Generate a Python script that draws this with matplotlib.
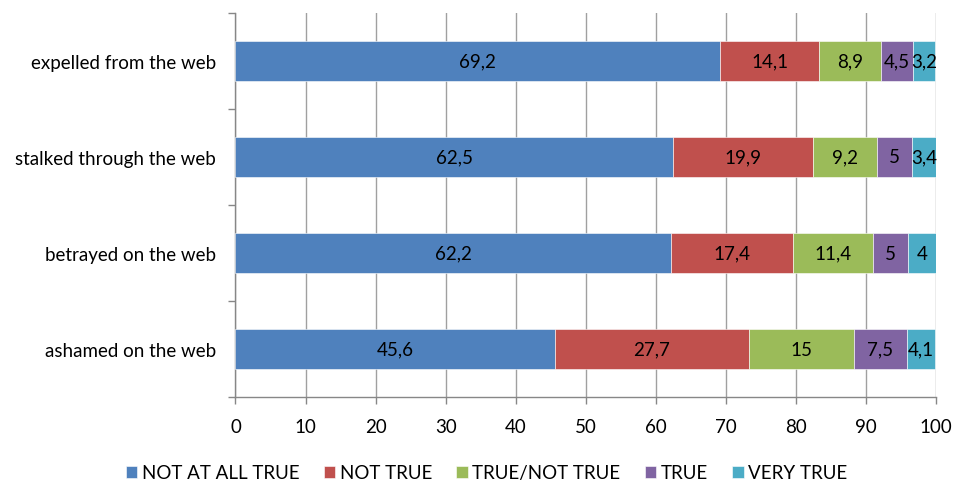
import matplotlib
matplotlib.use("Agg")
import matplotlib.pyplot as plt
import numpy as np

plt.rcParams['font.family'] = ['Lato', 'DejaVu Sans']

categories = ["ashamed on the web", "betrayed on the web",
              "stalked through the web", "expelled from the web"]
series_names = ["NOT AT ALL TRUE", "NOT TRUE", "TRUE/NOT TRUE", "TRUE", "VERY TRUE"]
not_at_all_true = [45.6, 62.2, 62.5, 69.2]
not_true = [27.7, 17.4, 19.9, 14.1]
true_not_true = [15, 11.4, 9.2, 8.9]
true_ = [7.5, 5, 5, 4.5]
very_true = [4.1, 4, 3.4, 3.2]
x_ticks = [0, 10, 20, 30, 40, 50, 60, 70, 80, 90, 100]

series = [not_at_all_true, not_true, true_not_true, true_, very_true]
colors = ["#4F81BD", "#C0504D", "#9BBB59", "#8064A2", "#4BACC6"]
FS = 13.5

fig = plt.figure(figsize=(9.54, 4.81), dpi=100)
ax = fig.add_axes([235.5 / 954, 1 - 398 / 481, (936 - 235.5) / 954, (398 - 14) / 481])

y = np.arange(len(categories))
left = np.zeros(len(categories))
for name, vals, col in zip(series_names, series, colors):
    vals = np.array(vals, dtype=float)
    bars = ax.barh(y, vals, left=left, height=0.41, color=col, label=name,
                   edgecolor="white", linewidth=0.4, zorder=3)
    for b, v in zip(bars, vals):
        txt = f"{v:g}".replace(".", ",")
        ax.text(b.get_x() + b.get_width() / 2, b.get_y() + b.get_height() / 2, txt,
                ha="center", va="center", fontsize=FS, color="black", zorder=4)
    left += vals

ax.set_xlim(0, 100)
ax.set_ylim(-0.5, len(categories) - 0.5)
ax.set_xticks(x_ticks)
ax.set_xticklabels([str(t) for t in x_ticks], fontsize=FS)
ax.set_yticks(y)
ax.set_yticklabels(categories, fontsize=FS)
ax.tick_params(axis="y", length=0, pad=14)
ax.set_yticks(np.arange(-0.5, len(categories), 1), minor=True)
ax.tick_params(axis="y", which="minor", length=5, color="#878787", width=1)
ax.tick_params(axis="x", length=5, color="#878787", width=1, pad=10)

ax.grid(axis="x", color="#A0A0A0", linewidth=1, zorder=0)
for s in ["top", "right"]:
    ax.spines[s].set_visible(False)
for s in ["left", "bottom"]:
    ax.spines[s].set_color("#878787")
    ax.spines[s].set_linewidth(1)

fig.legend(loc="lower center", bbox_to_anchor=(0.51, -0.038), ncol=5, frameon=False,
           fontsize=FS, handlelength=0.6, handleheight=0.6, handletextpad=0.25,
           columnspacing=1.3)

fig.savefig("out.png", dpi=100)
